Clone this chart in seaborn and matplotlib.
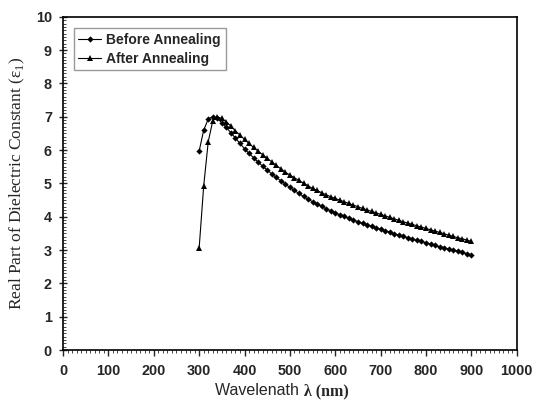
import numpy as np
import pandas as pd
import matplotlib
matplotlib.use('Agg')
import matplotlib.pyplot as plt
from matplotlib.ticker import MultipleLocator
import seaborn as sns

# comprimento de onda (nm)
wavelength = list(range(300, 910, 10))

before = [5.97, 6.60, 6.93, 7.00, 6.95, 6.82, 6.68, 6.52, 6.36, 6.20,
          6.04, 5.90, 5.77, 5.64, 5.52, 5.40, 5.29, 5.18, 5.08, 4.98,
          4.88, 4.79, 4.70, 4.61, 4.53, 4.45, 4.38, 4.31, 4.24, 4.18,
          4.12, 4.06, 4.01, 3.95, 3.90, 3.85, 3.80, 3.76, 3.71, 3.67,
          3.62, 3.58, 3.54, 3.49, 3.45, 3.41, 3.37, 3.33, 3.29, 3.26,
          3.22, 3.18, 3.14, 3.10, 3.07, 3.03, 3.00, 2.96, 2.93, 2.89,
          2.86]

after = [3.06, 4.92, 6.25, 6.88, 7.00, 6.95, 6.85, 6.72, 6.58, 6.45,
         6.32, 6.20, 6.08, 5.97, 5.86, 5.75, 5.65, 5.54, 5.44, 5.34,
         5.25, 5.17, 5.09, 5.01, 4.93, 4.85, 4.79, 4.72, 4.66, 4.60,
         4.55, 4.50, 4.45, 4.40, 4.35, 4.30, 4.25, 4.21, 4.16, 4.12,
         4.07, 4.03, 3.98, 3.94, 3.89, 3.85, 3.81, 3.77, 3.73, 3.69,
         3.65, 3.61, 3.57, 3.53, 3.49, 3.45, 3.41, 3.37, 3.34, 3.30,
         3.26]

df = pd.DataFrame({'wl': wavelength, 'before': before, 'after': after})

sns.set_style('ticks')
plt.rcParams['font.family'] = ['Liberation Sans', 'DejaVu Sans']
plt.rcParams['mathtext.fontset'] = 'custom'
plt.rcParams['mathtext.rm'] = 'Liberation Serif'

fig = plt.figure(figsize=(5.4, 4.01), dpi=100)
ax = fig.add_axes([0.1167, 0.127, 0.8403, 0.831])

sns.lineplot(x='wl', y='before', data=df, ax=ax, color='black', lw=0.8,
             marker='D', markersize=3.2, markeredgewidth=0, label='Before Annealing')
sns.lineplot(x='wl', y='after', data=df, ax=ax, color='black', lw=0.8,
             marker='^', markersize=4.2, markeredgewidth=0, label='After Annealing')

ax.set_xlim(0, 1000)
ax.set_ylim(0, 10)
ax.xaxis.set_major_locator(MultipleLocator(100))
ax.xaxis.set_minor_locator(MultipleLocator(10))
ax.yaxis.set_major_locator(MultipleLocator(1))
ax.yaxis.set_minor_locator(MultipleLocator(0.1))

for s in ax.spines.values():
    s.set_linewidth(1.2)
    s.set_color('black')

ax.tick_params(axis='x', which='major', direction='out', length=4, width=1, pad=6)
ax.tick_params(axis='x', which='minor', direction='out', length=2.5, width=0.6)
ax.tick_params(axis='y', which='major', direction='inout', length=6, width=1, pad=5)
ax.tick_params(axis='y', which='minor', direction='in', length=2.5, width=0.6)
for lab in ax.get_xticklabels() + ax.get_yticklabels():
    lab.set_fontweight('bold')
    lab.set_fontsize(10.4)

# rótulo do eixo x em duas fontes
ax.set_xlabel('')
ax.text(0.53, -0.10, 'Wavelenath ', transform=ax.transAxes, ha='right', va='top',
        fontsize=11.5)
ax.text(0.53, -0.10, 'λ (nm)', transform=ax.transAxes, ha='left', va='top',
        fontsize=11.5, fontweight='bold', family=['Liberation Serif', 'DejaVu Serif'])
ax.set_ylabel(r'Real Part of Dielectric Constant (ε$_{\rm 1}$)', fontsize=12.5,
              family=['Liberation Serif', 'DejaVu Serif'], labelpad=6)

leg = ax.legend(loc='upper left', bbox_to_anchor=(0.008, 0.988), fancybox=False,
                handlelength=1.6, handletextpad=0.4, borderpad=0.35,
                labelspacing=0.35, prop={'weight': 'bold', 'size': 10})
leg.get_frame().set_edgecolor('#808080')
leg.get_frame().set_linewidth(1.0)

plt.savefig('out.png', dpi=100)
